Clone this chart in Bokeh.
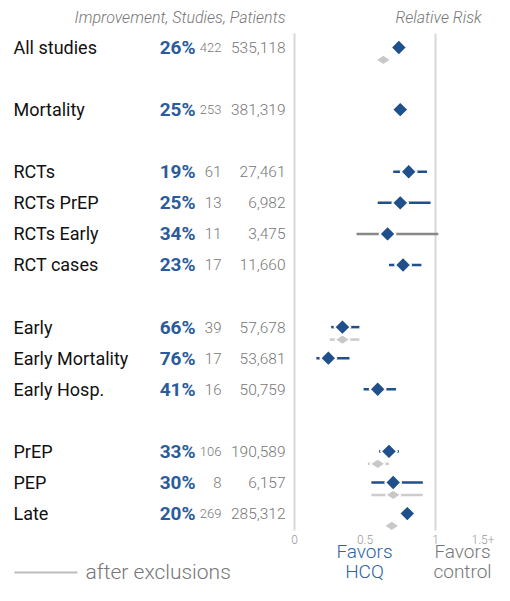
import numpy as np
from bokeh.plotting import figure
from bokeh.models import Range1d
from bokeh.core.properties import value
from bokeh.embed import file_html
from bokeh.resources import INLINE

# ---------------- data ----------------
labels = ["All studies", "Mortality", "RCTs", "RCTs PrEP", "RCTs Early", "RCT cases",
          "Early", "Early Mortality", "Early Hosp.", "PrEP", "PEP", "Late"]
rows = [0, 2, 4, 5, 6, 7, 9, 10, 11, 13, 14, 15]
improvement = [26, 25, 19, 25, 34, 23, 66, 76, 41, 33, 30, 20]
studies = [422, 253, 61, 13, 11, 17, 39, 17, 16, 106, 8, 269]
patients = ["535,118", "381,319", "27,461", "6,982", "3,475", "11,660",
            "57,678", "53,681", "50,759", "190,589", "6,157", "285,312"]
rr = [0.74, 0.75, 0.81, 0.75, 0.66, 0.77, 0.34, 0.24, 0.59, 0.67, 0.70, 0.80]
rr_lo = [0.71, 0.72, 0.70, 0.59, 0.44, 0.67, 0.26, 0.155, 0.49, 0.60, 0.545, 0.77]
rr_hi = [0.77, 0.78, 0.94, 0.965, 1.02, 0.90, 0.46, 0.39, 0.72, 0.74, 0.91, 0.83]

excl_rows = [0, 9, 13, 14, 15]
excl_rr = [0.63, 0.34, 0.59, 0.70, 0.69]
excl_lo = [0.60, 0.25, 0.52, 0.545, 0.66]
excl_hi = [0.66, 0.46, 0.67, 0.91, 0.72]

tick_vals = [0, 0.5, 1]
tick_labels = ["0", "0.5", "1"]
last_tick = "1.5+"

# ---------------- layout helpers ----------------
W, H = 494, 585
X0, XS = 294.0, 141.0     # px of RR=0, px per RR unit
Y0, YS = 47.0, 31.07      # px of row 0, px per row


def fx(sx):
    return (sx - X0) / XS


def fy(sy):
    return (sy - Y0) / YS


BLUE = "#20508c"
BLUE_T = "#2a5b9b"
GRAY_T = "#777777"
FONT = value("Roboto")
LIGHT = value("Roboto Light, Roboto")

p = figure(width=W, height=H, output_backend="svg", toolbar_location=None,
           x_range=Range1d(fx(0), fx(W)), y_range=Range1d(fy(H), fy(0)),
           x_axis_location=None, y_axis_location=None, min_border=0)
p.grid.visible = False
p.outline_line_color = None

n = len(labels)

# headers
p.text(x=[fx(285)], y=[fy(17)], text=["Improvement, Studies, Patients"], text_font=LIGHT,
       text_font_size="16px", text_font_style="italic", text_color=GRAY_T,
       text_align="right", text_baseline="middle")
p.text(x=[fx(438)], y=[fy(17)], text=["Relative Risk"], text_font=LIGHT,
       text_font_size="16px", text_font_style="italic", text_color=GRAY_T,
       text_align="center", text_baseline="middle")

# row texts
p.text(x=[fx(13)] * n, y=rows, text=labels, text_font=FONT, text_font_size="18px",
       text_color="#111111", text_align="left", text_baseline="middle")
p.text(x=[fx(195)] * n, y=rows, text=[f"{v}%" for v in improvement], text_font=FONT,
       text_font_size="19px", text_font_style="bold", text_color=BLUE_T,
       text_align="right", text_baseline="middle")
study_sizes = ["13px" if len(str(v)) > 2 else "15px" for v in studies]
p.text(x=[fx(221)] * n, y=rows, text=[str(v) for v in studies], text_font=LIGHT,
       text_font_size=study_sizes, text_color=GRAY_T, text_align="right",
       text_baseline="middle")
p.text(x=[fx(285)] * n, y=rows, text=patients, text_font=LIGHT,
       text_font_size="15.5px", text_color=GRAY_T, text_align="right", text_baseline="middle")

# reference lines at 0 and 1
p.segment(x0=[0, 1], y0=[fy(33)] * 2, x1=[0, 1], y1=[fy(530)] * 2,
          line_color="#d8d8d8", line_width=2)

# exclusions
ey = [r + 0.4 for r in excl_rows]
p.segment(x0=excl_lo, y0=ey, x1=excl_hi, y1=ey, line_color="#cccccc", line_width=2.5)
p.scatter(x=excl_rr, y=ey, marker="diamond", angle=np.pi / 2, size=15,
          fill_color="#c8c8c8", line_color="white", line_width=1.5)

# main estimates
ci_colors = [BLUE if h < 1 else "#888888" for h in rr_hi]
p.segment(x0=rr_lo, y0=rows, x1=rr_hi, y1=rows, line_color=ci_colors, line_width=2.5)
p.scatter(x=rr, y=rows, marker="square", angle=np.pi / 4, size=11.5,
          fill_color=BLUE, line_color="white", line_width=2)

# tick labels
p.text(x=tick_vals, y=[fy(539)] * len(tick_vals), text=tick_labels, text_font=LIGHT,
       text_font_size="12px", text_color="#999999", text_align="center", text_baseline="middle")
p.text(x=[fx(494)], y=[fy(539)], text=[last_tick], text_font=LIGHT,
       text_font_size="12px", text_color="#999999", text_align="right", text_baseline="middle")

# favors
p.text(x=[fx(364)] * 2, y=[fy(551), fy(571)], text=["Favors", "HCQ"], text_font=LIGHT,
       text_font_size="19px", text_color="#2d64a6", text_align="center", text_baseline="middle")
p.text(x=[fx(462)] * 2, y=[fy(551), fy(571)], text=["Favors", "control"], text_font=LIGHT,
       text_font_size="19px", text_color=GRAY_T, text_align="center", text_baseline="middle")

# legend
p.segment(x0=[fx(14)], y0=[fy(572)], x1=[fx(77)], y1=[fy(572)], line_color="#bbbbbb", line_width=2)
p.text(x=[fx(85)], y=[fy(571)], text=["after exclusions"], text_font=LIGHT,
       text_font_size="21px", text_color=GRAY_T, text_align="left", text_baseline="middle")

open("out.html", "w").write(file_html(p, INLINE))
